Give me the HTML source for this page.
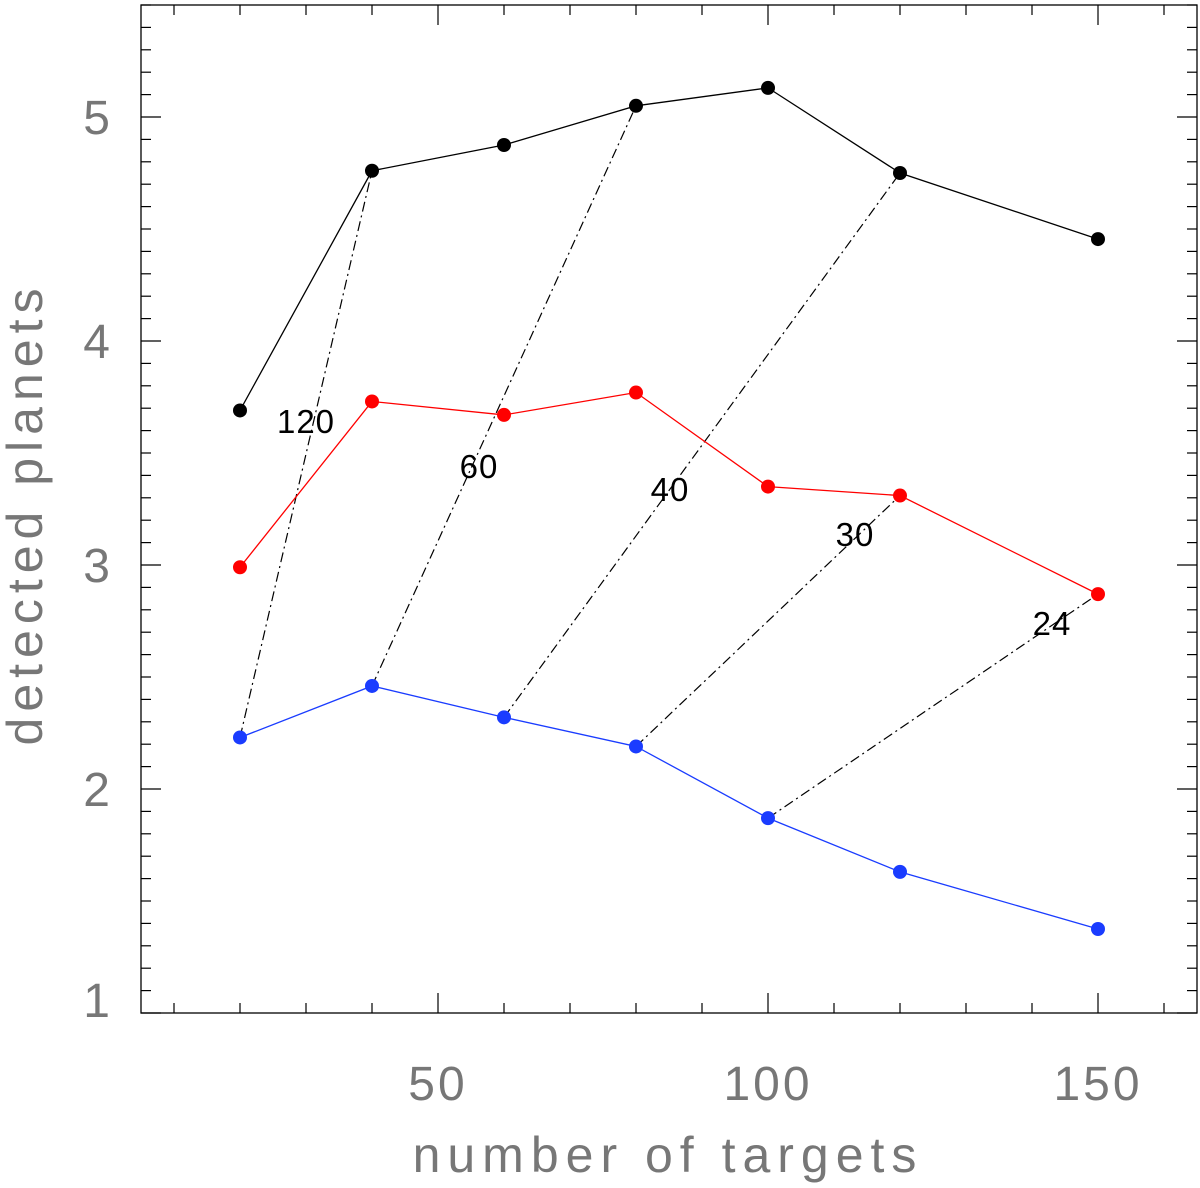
<!DOCTYPE html>
<html><head><meta charset="utf-8"><style>
html,body{margin:0;padding:0;background:#fff;}
svg{display:block;font-family:"Liberation Sans",sans-serif;}
</style></head><body>
<svg id="chart" width="1200" height="1188" viewBox="0 0 1200 1188"></svg>
<script>
const targets=[20,40,60,80,100,120,150];
const blackSeries=[3.69,4.76,4.875,5.05,5.13,4.75,4.455];
const redSeries=[2.99,3.73,3.67,3.77,3.35,3.31,2.87];
const blueSeries=[2.23,2.46,2.32,2.19,1.87,1.63,1.375];
const xTicks=[50,100,150];
const yTicks=[1,2,3,4,5];
const diagLabels=["120","60","40","30","24"];
const diagFrom=[[20,2.23],[40,2.46],[60,2.32],[80,2.19],[100,1.87]];
const diagTo=[[40,4.76],[80,5.05],[120,4.75],[120,3.31],[150,2.87]];

const L=141,R=1197,T=5,B=1013,X0=5,X1=165,Y0=1,Y1=5.5;
const sx=v=>L+(v-X0)/(X1-X0)*(R-L);
const sy=v=>B-(v-Y0)/(Y1-Y0)*(B-T);
const svg=document.getElementById('chart');
const NS="http://www.w3.org/2000/svg";
function mk(t,a){const e=document.createElementNS(NS,t);for(const k in a)e.setAttribute(k,a[k]);svg.appendChild(e);return e;}

let f=mk('rect',{x:L,y:T,width:R-L,height:B-T,fill:'none',stroke:'#000','stroke-width':1.3});



for(let v=10;v<=160;v+=10){
  const x=sx(v),len=(v%50===0)?20:10;
  let t=mk('line',{x1:x,y1:B,x2:x,y2:B-len,stroke:'#000','stroke-width':1.2});
  
  
  let t2=mk('line',{x1:x,y1:T,x2:x,y2:T+len,stroke:'#000','stroke-width':1.2});
  
  
}
for(let i=10;i<=55;i++){
  const v=i/10,y=sy(v),len=(i%10===0)?20:10;
  let t=mk('line',{x1:L,y1:y,x2:L+len,y2:y,stroke:'#000','stroke-width':1.2});
  
  
  let t2=mk('line',{x1:R,y1:y,x2:R-len,y2:y,stroke:'#000','stroke-width':1.2});
  
  
}
xTicks.forEach(v=>{
  let t=mk('text',{x:sx(v),y:1100,'text-anchor':'middle','font-size':48,fill:'#777','letter-spacing':'3'});
  t.textContent=v;
  
  
});
yTicks.forEach(v=>{
  let t=mk('text',{x:110,y:sy(v)+(v===1?4:17),'text-anchor':'end','font-size':48,fill:'#777'});
  t.textContent=v;
  
  
});
let xt=mk('text',{x:668,y:1172,'text-anchor':'middle','font-size':50,fill:'#777','letter-spacing':'7'});
xt.textContent='number of targets';


let yt=mk('text',{x:0,y:0,'text-anchor':'middle','font-size':50,fill:'#777','letter-spacing':'6',transform:'translate(42,514) rotate(-90)'});
yt.textContent='detected planets';



diagFrom.forEach((p,i)=>{
  const q=diagTo[i];
  let l=mk('line',{x1:sx(p[0]),y1:sy(p[1]),x2:sx(q[0]),y2:sy(q[1]),stroke:'#000','stroke-width':1.2,'stroke-dasharray':'10,4,2,4'});
  
  
});
const labPos=[[306,433],[479,478],[670,501],[855,546],[1052,635]];
diagLabels.forEach((s,i)=>{
  let t=mk('text',{x:labPos[i][0],y:labPos[i][1],'text-anchor':'middle','font-size':33,fill:'#000','letter-spacing':'1'});
  t.textContent=s;
  
  
});

function series(vals,color,name){
  let p=mk('polyline',{points:targets.map((t,i)=>sx(t)+','+sy(vals[i])).join(' '),fill:'none',stroke:color,'stroke-width':1.3});
  
  
  targets.forEach((t,i)=>{
    let c=mk('circle',{cx:sx(t),cy:sy(vals[i]),r:7,fill:color});
    
    
  });
}
series(blackSeries,'#000','black-series');
series(redSeries,'#f00','red-series');
series(blueSeries,'#1a3cff','blue-series');
</script>
</body></html>
